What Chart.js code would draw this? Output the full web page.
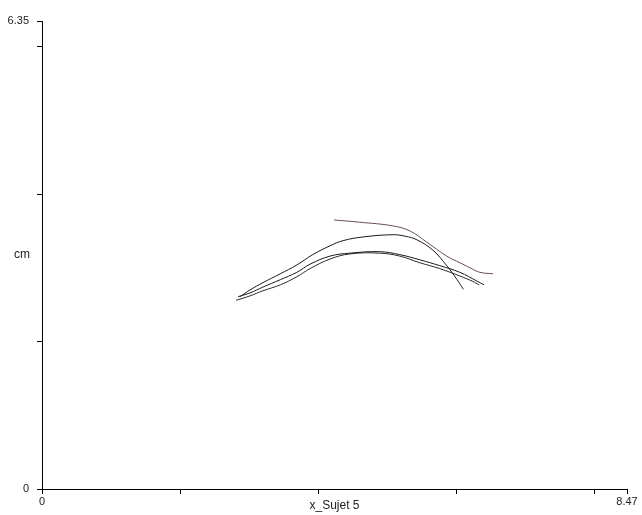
<!DOCTYPE html>
<html>
<head>
<meta charset="utf-8">
<script src="https://cdn.jsdelivr.net/npm/chart.js@4.4.0/dist/chart.umd.min.js"></script>
<style>
  html, body { margin: 0; padding: 0; background: #fff; }
  #wrap { width: 642px; height: 515px; position: relative; }
</style>
</head>
<body>
<div id="wrap"><canvas id="myChart" width="642" height="515"></canvas></div>
<script>
// axes
const xMax = 8.47;
const yMax = 6.35;
const xTicks = [0, 2, 4, 6, 8, xMax];
const yTicks = [0, 2, 4, 6, yMax];
const xTitle = 'x_Sujet 5';
const yTitle = 'cm';

// courbes (x, y en cm)
const essai1X = [4.23, 4.60, 5.08, 5.33, 5.57, 5.86, 6.05, 6.20, 6.34, 6.53];
const essai1Y = [3.65, 3.62, 3.57, 3.50, 3.35, 3.16, 3.07, 3.00, 2.94, 2.92];

const essai2X = [2.87, 3.01, 3.20, 3.45, 3.69, 3.92, 4.17, 4.36, 4.65, 5.08, 5.26, 5.43, 5.66, 5.86, 6.01, 6.10];
const essai2Y = [2.61, 2.70, 2.80, 2.92, 3.04, 3.18, 3.30, 3.37, 3.42, 3.45, 3.43, 3.38, 3.24, 3.03, 2.84, 2.71];

const essai3X = [2.84, 3.01, 3.20, 3.45, 3.69, 3.88, 4.17, 4.46, 4.89, 5.18, 5.47, 5.76, 6.05, 6.30, 6.40];
const essai3Y = [2.61, 2.66, 2.74, 2.84, 2.94, 3.05, 3.16, 3.20, 3.22, 3.18, 3.11, 3.03, 2.94, 2.82, 2.77];

const essai4X = [2.81, 3.01, 3.20, 3.45, 3.69, 3.88, 4.17, 4.46, 4.89, 5.18, 5.47, 5.76, 6.05, 6.23, 6.33];
const essai4Y = [2.56, 2.62, 2.69, 2.77, 2.88, 2.99, 3.12, 3.19, 3.20, 3.16, 3.07, 2.99, 2.89, 2.82, 2.77];

function toPoints(xs, ys) {
    return xs.map((x, i) => ({ x: x, y: ys[i] }));
}

function serie(xs, ys, couleur) {
    return {
        data: toPoints(xs, ys),
        showLine: true,
        borderColor: couleur,
        backgroundColor: couleur,
        borderWidth: 1,
        pointRadius: 0,
        tension: 0.4
    };
}

// titres des axes écrits à la main (cm horizontal)
const titresAxes = {
    id: 'titresAxes',
    afterDraw(chart) {
        const c = chart.ctx;
        const area = chart.chartArea;
        c.save();
        c.fillStyle = '#222';
        c.font = '12px "Liberation Sans", Arial, sans-serif';
        c.textAlign = 'center';
        c.textBaseline = 'middle';
        c.fillText(yTitle, 22, (area.top + area.bottom) / 2);
        c.fillText(xTitle, (area.left + area.right) / 2, area.bottom + 17);
        c.restore();
    }
};

const ctx = document.getElementById('myChart').getContext('2d');
const myChart = new Chart(ctx, {
    type: 'scatter',
    data: {
        datasets: [
            serie(essai1X, essai1Y, '#6b4b4b'),
            serie(essai2X, essai2Y, '#1a1a1a'),
            serie(essai3X, essai3Y, '#1a1a1a'),
            serie(essai4X, essai4Y, '#2a2a2a')
        ]
    },
    options: {
        responsive: false,
        animation: false,
        layout: { padding: { top: 21, right: 15, left: 0, bottom: 0 } },
        plugins: {
            legend: { display: false },
            tooltip: { enabled: false }
        },
        scales: {
            x: {
                type: 'linear',
                min: 0,
                max: xMax,
                afterBuildTicks: (scale) => { scale.ticks = xTicks.map(v => ({ value: v })); },
                afterFit: (scale) => { scale.height = 26; },
                border: { display: true, color: '#000', width: 1 },
                grid: { drawOnChartArea: false, drawTicks: true, tickLength: 5, color: '#000' },
                ticks: {
                    autoSkip: false,
                    maxRotation: 0,
                    padding: 1,
                    color: '#222',
                    font: { family: '"Liberation Sans", Arial, sans-serif', size: 11 },
                    callback: (v) => (v === 0 || v === xMax) ? String(v) : ''
                }
            },
            y: {
                type: 'linear',
                min: 0,
                max: yMax,
                afterBuildTicks: (scale) => { scale.ticks = yTicks.map(v => ({ value: v })); },
                afterFit: (scale) => { scale.width = 42; },
                border: { display: true, color: '#000', width: 1 },
                grid: { drawOnChartArea: false, drawTicks: true, tickLength: 5, color: '#000' },
                ticks: {
                    autoSkip: false,
                    padding: 8,
                    color: '#222',
                    font: { family: '"Liberation Sans", Arial, sans-serif', size: 11 },
                    callback: (v) => (v === 0 || v === yMax) ? String(v) : ''
                }
            }
        }
    },
    plugins: [titresAxes]
});
</script>
</body>
</html>
